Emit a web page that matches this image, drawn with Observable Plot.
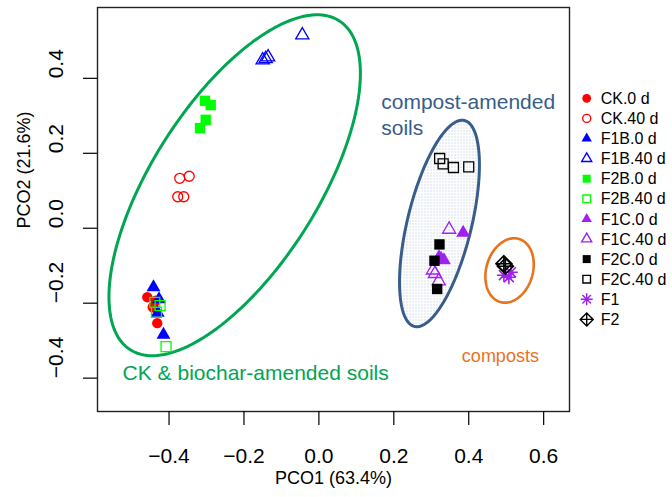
<!DOCTYPE html>
<html><head><meta charset="utf-8">
<script src="https://cdn.jsdelivr.net/npm/d3@7"></script>
<script src="https://cdn.jsdelivr.net/npm/@observablehq/plot@0.6"></script>
<style>
html,body{margin:0;padding:0;background:#fff;}
#chart{position:relative;width:672px;height:497px;}
</style></head><body><div id="chart"></div>
<script>
// ---- data ----
const groups = ["CK.0 d","CK.40 d","F1B.0 d","F1B.40 d","F2B.0 d","F2B.40 d","F1C.0 d","F1C.40 d","F2C.0 d","F2C.40 d","F1","F2"];
const ck0_pco1 = [-0.4581,-0.4435,-0.4315,-0.4355];
const ck0_pco2 = [-0.184,-0.2107,-0.2533,-0.1933];
const ck40_pco1 = [-0.3715,-0.3461,-0.3768,-0.3608];
const ck40_pco2 = [0.1333,0.1387,0.084,0.084];
const f1b0_pco1 = [-0.4416,-0.4267,-0.4301,-0.4149];
const f1b0_pco2 = [-0.1573,-0.1893,-0.2253,-0.284];
const f1b40_pco1 = [-0.0443,-0.1501,-0.1355,-0.1421];
const f1b40_pco2 = [0.5152,0.4485,0.4565,0.452];
const f2b0_pco1 = [-0.304,-0.2888,-0.3021,-0.3173];
const f2b0_pco2 = [0.34,0.3285,0.2893,0.2672];
const f2b40_pco1 = [-0.4381,-0.424,-0.4336,-0.408];
const f2b40_pco2 = [-0.1979,-0.2067,-0.2245,-0.316];
const f1c0_pco1 = [0.3851,0.3205,0.3339,0.3264];
const f1c0_pco2 = [-0.012,-0.0773,-0.0853,-0.0813];
const f1c40_pco1 = [0.3477,0.3045,0.32,0.3099];
const f1c40_pco2 = [-0.0032,-0.112,-0.1408,-0.1213];
const f2c0_pco1 = [0.3219,0.3085,0.3157];
const f2c0_pco2 = [-0.0432,-0.0867,-0.1621];
const f2c40_pco1 = [0.3224,0.3317,0.3592,0.4];
const f2c40_pco2 = [0.1861,0.172,0.1621,0.164];
const f1_pco1 = [0.4939,0.5072,0.5125];
const f1_pco2 = [-0.1253,-0.1307,-0.1173];
const f2_pco1 = [0.4939,0.4979];
const f2_pco2 = [-0.0947,-0.1013];

const xTicks = [-0.4,-0.2,0,0.2,0.4,0.6];
const yTicks = [-0.4,-0.2,0,0.2,0.4];
const xTitle = "PCO1 (63.4%)";
const yTitle = "PCO2 (21.6%)";

// group ellipses (centre, semi-axes, rotation in degrees)
const ellipseNames = ["CK & biochar","compost-amended","composts"];
const ellipseCX = [-0.2248,0.3219,0.509];
const ellipseCY = [0.1147,0.0127,-0.1127];
const ellipseA = [0.52,0.2827,0.0877];
const ellipseB = [0.2216,0.0856,0.0621];
const ellipseAngle = [57.6,76.35,73.4];

const annotLabels = ["CK & biochar-amended soils","compost-amended\nsoils","composts"];
const annotX = [-0.524,0.1664,0.4845];
const annotY = [-0.3835,0.3053,-0.338];

// ---- styles ----
const GREEN = "#00a651", BLUE = "#385d8a", ORANGE = "#e8731e";
const rad = s => Math.sqrt(s/Math.PI);
const sym = {
  circle:{draw(c,s){const r=rad(s);c.moveTo(r,0);c.arc(0,0,r,0,2*Math.PI);c.closePath();}},
  square:{draw(c,s){const r=rad(s);c.moveTo(-r,-r);c.lineTo(r,-r);c.lineTo(r,r);c.lineTo(-r,r);c.closePath();}},
  triangle:{draw(c,s){const r=rad(s),h=r*Math.sqrt(3)/2;c.moveTo(0,-r);c.lineTo(h,r/2);c.lineTo(-h,r/2);c.closePath();}},
  asterisk:{draw(c,s){const r=rad(s),d=r*Math.SQRT1_2;c.moveTo(-r,0);c.lineTo(r,0);c.moveTo(0,-r);c.lineTo(0,r);c.moveTo(-d,-d);c.lineTo(d,d);c.moveTo(-d,d);c.lineTo(d,-d);}},
  diamondPlus:{draw(c,s){const r=rad(s);c.moveTo(0,-r);c.lineTo(r,0);c.lineTo(0,r);c.lineTo(-r,0);c.closePath();c.moveTo(-r,0);c.lineTo(r,0);c.moveTo(0,-r);c.lineTo(0,r);}}
};
const styles = [
  {sym:"circle",color:"#ff0000",filled:true,r:5.2,lr:4.4},
  {sym:"circle",color:"#ff0000",filled:false,r:5,lr:4},
  {sym:"triangle",color:"#0000ff",filled:true,r:8,lr:6},
  {sym:"triangle",color:"#0000ff",filled:false,r:7.6,lr:5.8},
  {sym:"square",color:"#00ff00",filled:true,r:5.2,lr:4},
  {sym:"square",color:"#00ff00",filled:false,r:5,lr:3.8},
  {sym:"triangle",color:"#a020f0",filled:true,r:8,lr:6},
  {sym:"triangle",color:"#a020f0",filled:false,r:7.6,lr:5.8},
  {sym:"square",color:"#000000",filled:true,r:5.2,lr:4},
  {sym:"square",color:"#000000",filled:false,r:5,lr:3.8},
  {sym:"asterisk",color:"#a020f0",filled:false,r:7,lr:6},
  {sym:"diamondPlus",color:"#000000",filled:false,r:8,lr:6.5}
];

const seriesX = [ck0_pco1,ck40_pco1,f1b0_pco1,f1b40_pco1,f2b0_pco1,f2b40_pco1,f1c0_pco1,f1c40_pco1,f2c0_pco1,f2c40_pco1,f1_pco1,f2_pco1];
const seriesY = [ck0_pco2,ck40_pco2,f1b0_pco2,f1b40_pco2,f2b0_pco2,f2b40_pco2,f1c0_pco2,f1c40_pco2,f2c0_pco2,f2c40_pco2,f1_pco2,f2_pco2];
const rows = groups.flatMap((g,i)=>seriesX[i].map((x,j)=>({group:g,i,x,y:seriesY[i][j]})));

function ellipse(k){
  const t = ellipseAngle[k]*Math.PI/180, pts=[];
  for(let n=0;n<=180;n++){
    const a = n/180*2*Math.PI;
    const ex = ellipseA[k]*Math.cos(a), ey = ellipseB[k]*Math.sin(a);
    pts.push({x: ellipseCX[k]+ex*Math.cos(t)-ey*Math.sin(t), y: ellipseCY[k]+ex*Math.sin(t)+ey*Math.cos(t)});
  }
  return pts;
}
const fmt = d => d===0 ? "0.0" : (d<0?"\u2212":"") + Math.abs(d).toFixed(1);

const pointMarks = groups.map((g,i)=>{
  const s = styles[i];
  return Plot.dot(rows.filter(d=>d.i===i), {
    x:"x", y:"y", symbol: sym[s.sym], r: s.r,
    fill: s.filled ? s.color : "none",
    stroke: s.filled ? "none" : s.color,
    strokeWidth: s.filled ? 0 : (s.sym==="asterisk"||s.sym==="diamondPlus" ? 1.6 : 1.3)
  });
});

const annotColors = [GREEN, BLUE, ORANGE];
const annotSizes = [21,21,18];
const annotAnchors = ["start","start","middle"];
const annotMarks = annotLabels.map((t,k)=>Plot.text([t], {
  x: ()=>annotX[k], y: ()=>annotY[k], text: d=>d, fill: annotColors[k],
  fontSize: annotSizes[k], textAnchor: annotAnchors[k], lineHeight: 1.24
}));

const chart = Plot.plot({
  width: 672, height: 497,
  marginLeft: 97, marginRight: 103, marginTop: 7, marginBottom: 86,
  style: {fontFamily: "'Liberation Sans', Arial, Helvetica, sans-serif", background: "white", color: "black"},
  x: {domain: [-0.591, 0.669]},
  y: {domain: [-0.489, 0.589]},
  marks: [
    Plot.line(ellipse(1), {x:"x", y:"y", fill:"url(#dots)", stroke: BLUE, strokeWidth: 3, curve:"linear-closed"}),
    Plot.line(ellipse(0), {x:"x", y:"y", stroke: GREEN, strokeWidth: 3, curve:"linear-closed"}),
    Plot.line(ellipse(2), {x:"x", y:"y", stroke: ORANGE, strokeWidth: 2.6, curve:"linear-closed"}),
    ...pointMarks,
    ...annotMarks,
    Plot.frame({stroke:"#222", strokeWidth:1.4}),
    Plot.axisX(xTicks, {tickSize:14, tickPadding:23, fontSize:21, tickFormat: fmt, label:null, strokeWidth:1.2}),
    Plot.axisY(yTicks, {tickSize:14, tickFormat: ()=>"", label:null, strokeWidth:1.2}),
    Plot.text(yTicks, {y: d=>d, frameAnchor:"left", dx:-41, rotate:-90, text: fmt, fontSize:21}),
    Plot.text([xTitle], {frameAnchor:"bottom", dy:72, text:d=>d, fontSize:18}),
    Plot.text([yTitle], {frameAnchor:"left", dx:-73, dy:19, rotate:-90, text:d=>d, fontSize:18})
  ]
});

const svg = d3.select(chart);
const defs = svg.insert("defs", ":first-child");
const pat = defs.append("pattern").attr("id","dots").attr("patternUnits","userSpaceOnUse").attr("width",3).attr("height",3);
pat.append("rect").attr("width",3).attr("height",3).attr("fill","#ffffff");
pat.append("rect").attr("x",1).attr("y",1).attr("width",1).attr("height",1).attr("fill","#a9bedb");

// legend
const lg = svg.append("g").attr("font-family","'Liberation Sans', Arial, sans-serif").attr("font-size",16).attr("text-anchor","start");
groups.forEach((g,i)=>{
  const s = styles[i], yy = 98.3 + 20.1*i;
  const p = d3.path(); sym[s.sym].draw(p, Math.PI*s.lr*s.lr);
  lg.append("path").attr("d", p.toString()).attr("transform",`translate(586.7,${yy})`)
    .attr("fill", s.filled ? s.color : "none").attr("stroke", s.filled ? "none" : s.color)
    .attr("stroke-width", s.filled ? 0 : 1.4);
  lg.append("text").attr("x",600.7).attr("y",yy).attr("dy","0.35em").attr("text-anchor","start").attr("fill","#000").text(g);
});

document.getElementById("chart").appendChild(chart);
</script></body></html>
